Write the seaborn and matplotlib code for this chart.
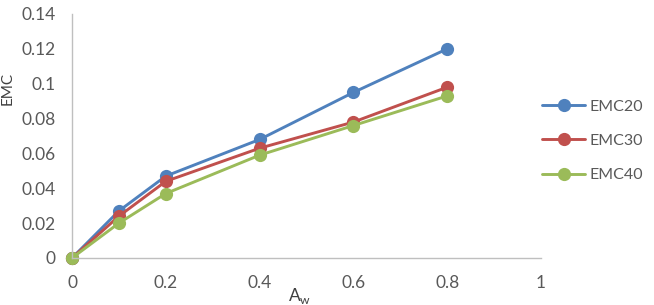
import matplotlib
matplotlib.use("Agg")
import matplotlib.pyplot as plt
import seaborn as sns
import pandas as pd

aw = [0, 0.1, 0.2, 0.4, 0.6, 0.8]
emc20 = [0, 0.027, 0.047, 0.068, 0.095, 0.120]
emc30 = [0, 0.024, 0.044, 0.063, 0.078, 0.098]
emc40 = [0, 0.020, 0.037, 0.059, 0.076, 0.093]
series_names = ["EMC20", "EMC30", "EMC40"]
x_ticks = [0, 0.2, 0.4, 0.6, 0.8, 1]
x_tick_labels = ["0", "0.2", "0.4", "0.6", "0.8", "1"]
y_ticks = [0, 0.02, 0.04, 0.06, 0.08, 0.1, 0.12, 0.14]
y_tick_labels = ["0", "0.02", "0.04", "0.06", "0.08", "0.1", "0.12", "0.14"]
colors = ["#4F81BD", "#C0504D", "#9BBB59"]

rows = []
for name, vals in zip(series_names, [emc20, emc30, emc40]):
    for a, v in zip(aw, vals):
        rows.append({"Aw": a, "EMC": v, "series": name})
df = pd.DataFrame(rows)

sns.set_style("white")
plt.rcParams["font.family"] = ["Lato", "DejaVu Sans"]

fig = plt.figure(figsize=(6.54, 3.05), dpi=100)
ax = fig.add_axes([72 / 654, 1 - 258 / 305, (541 - 72) / 654, (258 - 14) / 305])

sns.lineplot(data=df, x="Aw", y="EMC", hue="series", palette=colors,
             marker="o", markersize=9.5, markeredgewidth=0, linewidth=2.1,
             dashes=False, ax=ax)
for ln in ax.lines:
    ln.set_clip_on(False)

ax.set_xlim(0, 1)
ax.set_ylim(0, 0.14)
ax.set_xticks(x_ticks)
ax.set_xticklabels(x_tick_labels)
ax.set_yticks(y_ticks)
ax.set_yticklabels(y_tick_labels)
ax.tick_params(axis="both", length=0, labelsize=12.5, labelcolor="#595959", pad=12)
for s in ["top", "right"]:
    ax.spines[s].set_visible(False)
for s in ["left", "bottom"]:
    ax.spines[s].set_color("#BFBFBF")
    ax.spines[s].set_linewidth(1)
ax.grid(False)

ax.set_xlabel(r"A$_\mathregular{w}$", fontsize=12.5, color="#404040")
ax.xaxis.set_label_coords(0.486, -0.115)
ax.set_ylabel("EMC", fontsize=11, color="#404040")
ax.yaxis.set_label_coords(-0.122, 0.693)

leg = ax.legend(loc="center left", bbox_to_anchor=(1.002, 0.48), frameon=False,
                fontsize=11.5, labelspacing=1.25, handlelength=2.7,
                handletextpad=0.3, borderpad=0, borderaxespad=0)
for t in leg.get_texts():
    t.set_color("#595959")

fig.savefig("out.png", dpi=100)
